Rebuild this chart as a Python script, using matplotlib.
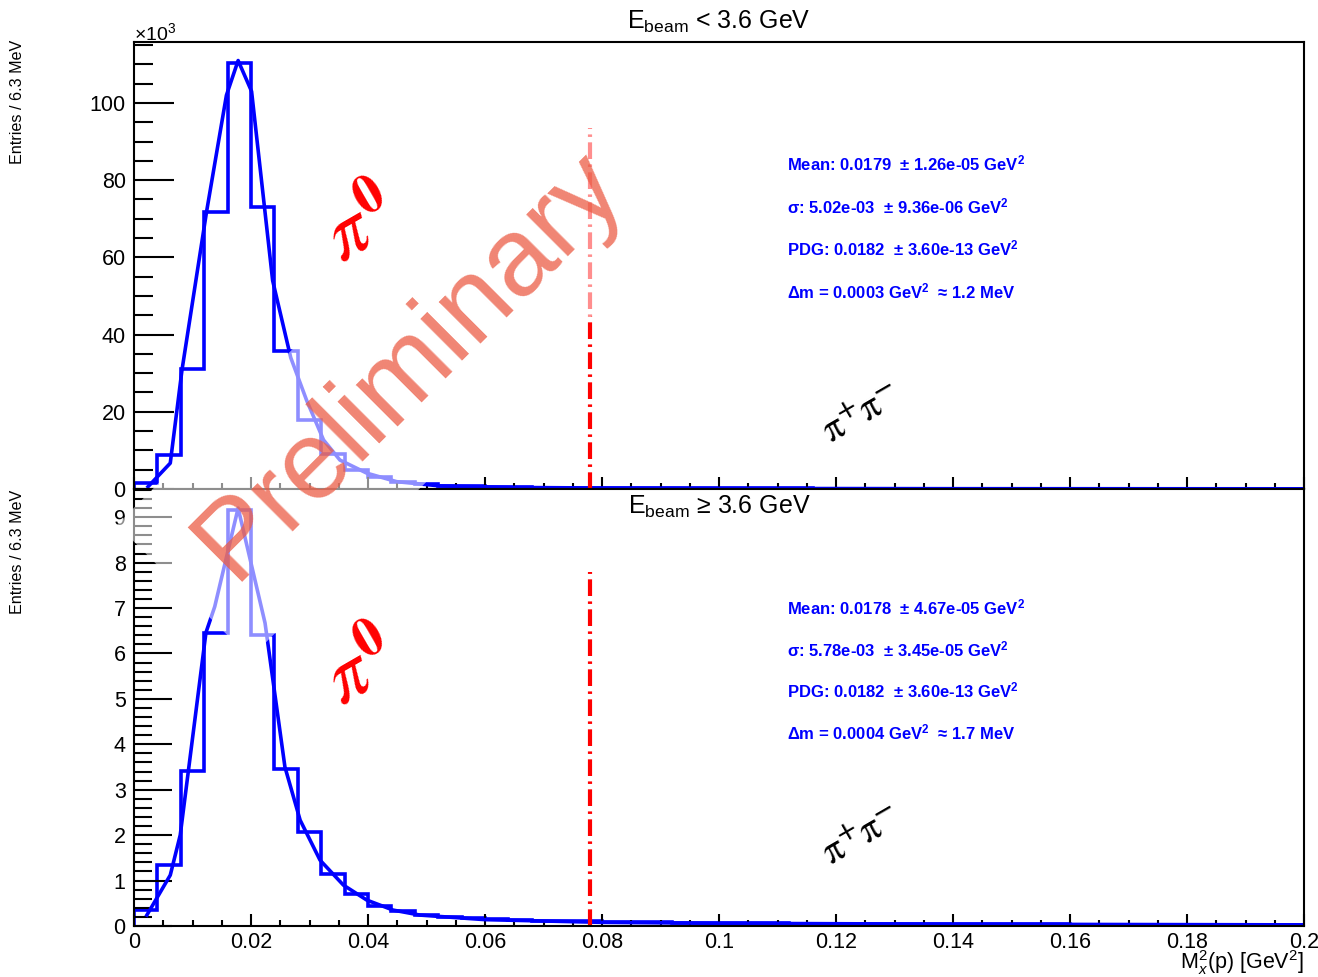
import numpy as np
import matplotlib
matplotlib.use("Agg")
import matplotlib.pyplot as plt
from matplotlib.ticker import MultipleLocator, FuncFormatter

plt.rcParams['font.family'] = ['Liberation Sans', 'DejaVu Sans']
plt.rcParams['mathtext.fontset'] = 'custom'
plt.rcParams['mathtext.rm'] = 'Liberation Sans'
plt.rcParams['mathtext.it'] = 'Liberation Sans:italic'
plt.rcParams['mathtext.bf'] = 'Liberation Sans:bold'

# histogram: 50 bins of 0.004 GeV^2 between 0 and 0.2
bin_edges = np.linspace(0.0, 0.2, 51)

# E_beam < 3.6 GeV, entries in units of 10^3
counts_low = [1.5, 8.8, 31.1, 71.8, 110.4, 73.1, 35.7, 18.0, 9.0, 4.9, 3.1, 1.9, 1.3,
              0.9, 0.7, 0.55, 0.45, 0.38, 0.32, 0.28, 0.25, 0.22, 0.2, 0.18, 0.17,
              0.16, 0.15, 0.14, 0.13, 0.12, 0.12, 0.11, 0.1, 0.1, 0.09, 0.09, 0.08,
              0.08, 0.08, 0.07, 0.07, 0.07, 0.06, 0.06, 0.06, 0.05, 0.05, 0.05, 0.05,
              0.04]
fit_x_low = [0.0024, 0.0062, 0.0082, 0.0124, 0.0158, 0.0178, 0.0201, 0.0237, 0.0268,
             0.0295, 0.0324, 0.0352, 0.0398, 0.0449, 0.0523, 0.065, 0.08, 0.1, 0.14, 0.2]
fit_y_low = [0.6, 6.7, 30.8, 71.8, 102, 111, 103, 54, 34, 23, 12.7, 7.5, 4.1, 1.9,
             0.8, 0.4, 0.25, 0.15, 0.08, 0.05]

# E_beam >= 3.6 GeV, entries in units of 10^3
counts_high = [0.35, 1.34, 3.41, 6.46, 9.15, 6.41, 3.45, 2.08, 1.14, 0.70, 0.44, 0.33,
               0.25, 0.2, 0.17, 0.15, 0.13, 0.12, 0.11, 0.1, 0.09, 0.085, 0.08, 0.075,
               0.07, 0.065, 0.06, 0.06, 0.055, 0.05, 0.05, 0.048, 0.045, 0.043, 0.04,
               0.04, 0.038, 0.036, 0.035, 0.034, 0.032, 0.03, 0.03, 0.029, 0.028,
               0.027, 0.026, 0.025, 0.025, 0.024]
fit_x_high = [0.0022, 0.0062, 0.0079, 0.0123, 0.0138, 0.0178, 0.0224, 0.0258, 0.0284,
              0.0318, 0.0358, 0.0398, 0.0443, 0.0489, 0.06, 0.08, 0.1, 0.14, 0.2]
fit_y_high = [0.24, 1.12, 2.0, 6.46, 7.03, 9.2, 6.67, 3.5, 2.33, 1.45, 0.90, 0.57,
              0.35, 0.24, 0.14, 0.08, 0.06, 0.04, 0.025]

cut_x = 0.078
cut_top = [93.5, 7.8]

titles = [r'E$_{\rm beam}$ < 3.6 GeV', r'E$_{\rm beam}$ ≥ 3.6 GeV']
stats = [
    ['Mean: 0.0179  ± 1.26e-05 GeV$^{\\mathbf{2}}$',
     'σ: 5.02e-03  ± 9.36e-06 GeV$^{\\mathbf{2}}$',
     'PDG: 0.0182  ± 3.60e-13 GeV$^{\\mathbf{2}}$',
     'Δm = 0.0003 GeV$^{\\mathbf{2}}$  ≈ 1.2 MeV'],
    ['Mean: 0.0178  ± 4.67e-05 GeV$^{\\mathbf{2}}$',
     'σ: 5.78e-03  ± 3.45e-05 GeV$^{\\mathbf{2}}$',
     'PDG: 0.0182  ± 3.60e-13 GeV$^{\\mathbf{2}}$',
     'Δm = 0.0004 GeV$^{\\mathbf{2}}$  ≈ 1.7 MeV'],
]

W, H = 1318, 977
fig = plt.figure(figsize=(W / 100, H / 100), dpi=100)
L, R = 134 / W, 1304 / W
ax_top = fig.add_axes([L, 1 - 489 / H, R - L, (489 - 42) / H])
ax_bot = fig.add_axes([L, 1 - 926 / H, R - L, (926 - 489) / H])


def fmt(v, pos):
    return '%g' % round(v, 6)


panels = [
    (ax_top, counts_low, fit_x_low, fit_y_low, (0, 115.8), 20, 5, 29, 14),
    (ax_bot, counts_high, fit_x_high, fit_y_high, (0, 9.62), 1, 0.2, 27, 13),
]
for i, (ax, cnt, fx, fy, ylim, ymaj, ymin, lmaj, lmin) in enumerate(panels):
    ax.stairs(cnt, bin_edges, color='#0000ff', lw=2.6)
    ax.plot(fx, fy, color='#0000ff', lw=2.6)
    ln, = ax.plot([cut_x, cut_x], [0, cut_top[i]], color='red', lw=3)
    ln.set_dashes([4, 1.3, 0.6, 1.3])
    ax.set_xlim(0, 0.2)
    ax.set_ylim(*ylim)
    ax.xaxis.set_major_locator(MultipleLocator(0.02))
    ax.xaxis.set_minor_locator(MultipleLocator(0.005))
    ax.yaxis.set_major_locator(MultipleLocator(ymaj))
    ax.yaxis.set_minor_locator(MultipleLocator(ymin))
    ax.xaxis.set_major_formatter(FuncFormatter(fmt))
    ax.yaxis.set_major_formatter(FuncFormatter(fmt))
    ax.tick_params(axis='y', which='major', direction='in', length=lmaj, width=1.5,
                   labelsize=15.5, pad=6)
    ax.tick_params(axis='y', which='minor', direction='in', length=lmin, width=1.5)
    ax.tick_params(axis='x', which='major', direction='in', length=9, width=1.5,
                   labelsize=15.5, pad=4)
    ax.tick_params(axis='x', which='minor', direction='in', length=4.5, width=1.5)
    for s in ax.spines.values():
        s.set_linewidth(1.5)

    # annotations
    ax.text(0.195, 0.585, r'$\pi^{\mathbf{0}}$', transform=ax.transAxes, color='red',
            fontsize=56, rotation=30, ha='center', va='center', math_fontfamily='stix')
    ax.text(0.622, 0.165 if i == 0 else 0.205, r'$\mathrm{\pi}^{\mathbf{+}}\mathrm{\pi}^{\mathbf{-}}$',
            transform=ax.transAxes, color='black', fontsize=28, rotation=30,
            ha='center', va='center', math_fontfamily='stix')
    ys = [0.729, 0.633, 0.539, 0.443]
    for t, y in zip(stats[i], ys):
        ax.text(0.558, y, t, transform=ax.transAxes, color='#0000ff', fontsize=12,
                fontweight='bold', ha='left', va='center')

ax_top.tick_params(axis='x', labelbottom=False)

fig.text(719 / W, 1 - 22 / H, titles[0], ha='center', va='center', fontsize=18)
fig.text(719 / W, 1 - 507 / H, titles[1], ha='center', va='center', fontsize=18)
fig.text(134 / W, 1 - 33 / H, r'×10$^{3}$', ha='left', va='center', fontsize=14)
fig.text(18 / W, 1 - 40 / H, 'Entries / 6.3 MeV', rotation=90, ha='center', va='top',
         fontsize=11.6)
fig.text(18 / W, 1 - 490 / H, 'Entries / 6.3 MeV', rotation=90, ha='center', va='top',
         fontsize=11.6)
fig.text(1304 / W, 1 - 963 / H, r'M$_{x}^{2}$(p) [GeV$^{2}$]', ha='right', va='center',
         fontsize=15.5)

# watermark
fig.text(410 / W, 1 - 365 / H, 'Preliminary', rotation=45, ha='center', va='center',
         fontsize=80, color=(0.92, 0.36, 0.27, 0.75), zorder=10,
         rotation_mode='anchor',
         bbox=dict(facecolor=(1, 1, 1, 0.56), edgecolor='none', pad=30))

fig.savefig('out.png', dpi=100)
